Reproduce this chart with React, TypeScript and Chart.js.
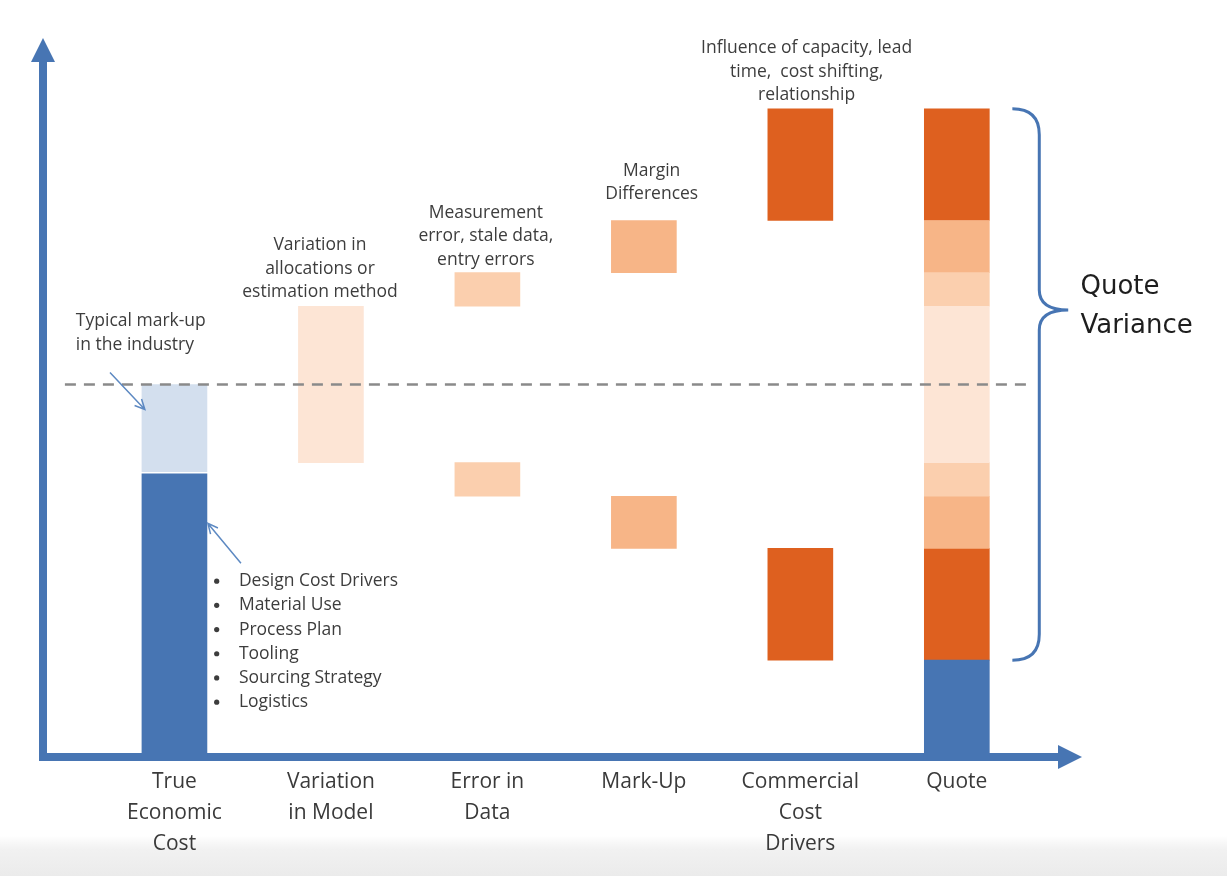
import React, { useEffect, useRef } from "react";
import { Chart, registerables } from "chart.js";

Chart.register(...registerables);

// ---------- data ----------
const categories: string[][] = [
  ["True", "Economic", "Cost"],
  ["Variation", "in Model"],
  ["Error in", "Data"],
  ["Mark-Up"],
  ["Commercial", "Cost", "Drivers"],
  ["Quote"],
];

// floating ranges [low, high] per category (null = no bar)
const baseCost = [[0, 76], null, null, null, null, [0, 26]];
const typicalMarkup = [[76.6, 100], null, null, null, null, null];
const modelVariation = [null, [79, 121], null, null, null, [79, 121]];
const dataErrorHigh = [null, null, [121, 130], null, null, [121, 130]];
const dataErrorLow = [null, null, [70, 79], null, null, [70, 79]];
const markupHigh = [null, null, null, [130, 144], null, [130, 144]];
const markupLow = [null, null, null, [56, 70], null, [56, 70]];
const commercialHigh = [null, null, null, null, [144, 174], [144, 174]];
const commercialLow = [null, null, null, null, [26, 56], [26, 56]];

const industryMarkupLevel = 100;
const quoteVarianceRange = [26, 174];
const braceTipValue = 120;

const costDrivers = [
  "Design Cost Drivers",
  "Material Use",
  "Process Plan",
  "Tooling",
  "Sourcing Strategy",
  "Logistics",
];

// ---------- styles ----------
const AXIS_BLUE = "#4775b3";
const LIGHT_BLUE = "#d3dfee";
const DARK_ORANGE = "#de601f";
const MED_ORANGE = "#f7b587";
const LIGHT_ORANGE = "#fbcfae";
const PALE_ORANGE = "#fde5d5";
const TEXT = "#3d3d3d";
const FONT = "'Open Sans', sans-serif";

const notes = [
  { lines: ["Typical mark-up", "in the industry"], x: -0.63, y: 116.9, align: "left" },
  { lines: ["Variation in", "allocations or", "estimation method"], x: 0.93, y: 137.3, align: "center" },
  { lines: ["Measurement", "error, stale data,", "entry errors"], x: 1.99, y: 146.1, align: "center" },
  { lines: ["Margin", "Differences"], x: 3.05, y: 157.4, align: "center" },
  { lines: ["Influence of capacity, lead", "time,  cost shifting,", "relationship"], x: 4.04, y: 190.3, align: "center" },
];

const toPoints = (arr: (number[] | null)[]) =>
  arr
    .map((v, i) => (v ? { x: i, y: v } : null))
    .filter((p) => p !== null) as { x: number; y: number[] }[];

function drawArrow(ctx: CanvasRenderingContext2D, x1: number, y1: number, x2: number, y2: number) {
  ctx.save();
  ctx.strokeStyle = "#5d89c2";
  ctx.lineWidth = 1.5;
  ctx.beginPath();
  ctx.moveTo(x1, y1);
  ctx.lineTo(x2, y2);
  const a = Math.atan2(y2 - y1, x2 - x1);
  const h = 11;
  ctx.moveTo(x2 - h * Math.cos(a - 0.45), y2 - h * Math.sin(a - 0.45));
  ctx.lineTo(x2, y2);
  ctx.lineTo(x2 - h * Math.cos(a + 0.45), y2 - h * Math.sin(a + 0.45));
  ctx.stroke();
  ctx.restore();
}

const decorPlugin = {
  id: "decor",
  beforeDraw(chart: any) {
    const { ctx, width, height } = chart;
    ctx.save();
    ctx.fillStyle = "#ffffff";
    ctx.fillRect(0, 0, width, height);
    const g = ctx.createLinearGradient(0, height - 40, 0, height);
    g.addColorStop(0, "rgba(238,238,238,0)");
    g.addColorStop(0.35, "#f1f1f1");
    g.addColorStop(1, "#ebebeb");
    ctx.fillStyle = g;
    ctx.fillRect(0, height - 40, width, 40);
    ctx.restore();
  },
  beforeDatasetsDraw(chart: any) {
    const { ctx, chartArea } = chart;
    const { left, right, top, bottom } = chartArea;
    ctx.save();
    ctx.fillStyle = AXIS_BLUE;
    // y axis
    ctx.fillRect(left - 4, top + 24, 8, bottom - top - 24 + 4);
    ctx.beginPath();
    ctx.moveTo(left - 12, top + 24);
    ctx.lineTo(left, top);
    ctx.lineTo(left + 12, top + 24);
    ctx.closePath();
    ctx.fill();
    // x axis
    ctx.fillRect(left - 4, bottom - 4, right - 24 - left + 4, 8);
    ctx.beginPath();
    ctx.moveTo(right - 24, bottom - 12);
    ctx.lineTo(right, bottom);
    ctx.lineTo(right - 24, bottom + 12);
    ctx.closePath();
    ctx.fill();
    ctx.restore();
  },
  afterDatasetsDraw(chart: any) {
    const { ctx } = chart;
    const xs = chart.scales.x;
    const ys = chart.scales.y;
    ctx.save();
    // dashed typical mark-up line
    const yLine = ys.getPixelForValue(industryMarkupLevel);
    ctx.strokeStyle = "#8a8a8a";
    ctx.lineWidth = 2.5;
    ctx.setLineDash([11, 8]);
    ctx.beginPath();
    ctx.moveTo(xs.getPixelForValue(-0.7), yLine);
    ctx.lineTo(xs.getPixelForValue(5.45), yLine);
    ctx.stroke();
    ctx.setLineDash([]);

    // annotation texts
    ctx.fillStyle = TEXT;
    ctx.font = `17.5px ${FONT}`;
    ctx.textBaseline = "middle";
    notes.forEach((n) => {
      ctx.textAlign = n.align as CanvasTextAlign;
      const x = xs.getPixelForValue(n.x);
      const y0 = ys.getPixelForValue(n.y);
      n.lines.forEach((l, k) => ctx.fillText(l, x, y0 + k * 23.5));
    });

    // bullet list
    ctx.textAlign = "left";
    const bx = xs.getPixelForValue(0.27);
    const tx = xs.getPixelForValue(0.412);
    const by0 = ys.getPixelForValue(47.2);
    costDrivers.forEach((l, k) => {
      const y = by0 + k * 24.2;
      ctx.beginPath();
      ctx.arc(bx, y, 2.6, 0, Math.PI * 2);
      ctx.fill();
      ctx.fillText(l, tx, y);
    });

    // arrows
    drawArrow(ctx, xs.getPixelForValue(-0.412), ys.getPixelForValue(103.2), xs.getPixelForValue(-0.189), ys.getPixelForValue(93.3));
    drawArrow(ctx, xs.getPixelForValue(0.425), ys.getPixelForValue(52.0), xs.getPixelForValue(0.214), ys.getPixelForValue(62.7));

    // brace
    const x0 = xs.getPixelForValue(5.355);
    const x1 = xs.getPixelForValue(5.527);
    const xt = xs.getPixelForValue(5.712);
    const yTop = ys.getPixelForValue(quoteVarianceRange[1]);
    const yBot = ys.getPixelForValue(quoteVarianceRange[0]);
    const yTip = ys.getPixelForValue(braceTipValue);
    const r = 26;
    const r2 = 20;
    ctx.strokeStyle = AXIS_BLUE;
    ctx.lineWidth = 3;
    ctx.beginPath();
    ctx.moveTo(x0, yTop);
    ctx.quadraticCurveTo(x1, yTop, x1, yTop + r);
    ctx.lineTo(x1, yTip - r2);
    ctx.quadraticCurveTo(x1, yTip, xt, yTip);
    ctx.quadraticCurveTo(x1, yTip, x1, yTip + r2);
    ctx.lineTo(x1, yBot - r);
    ctx.quadraticCurveTo(x1, yBot, x0, yBot);
    ctx.stroke();

    // Quote Variance label
    ctx.fillStyle = "#1e1e1e";
    ctx.font = "26px 'DejaVu Sans', sans-serif";
    ctx.textAlign = "left";
    const qx = xs.getPixelForValue(5.79);
    ctx.fillText("Quote", qx, ys.getPixelForValue(126.0));
    ctx.fillText("Variance", qx, ys.getPixelForValue(115.5));
    ctx.restore();
  },
};

export default function App() {
  const ref = useRef<HTMLCanvasElement | null>(null);

  useEffect(() => {
    if (!ref.current) return;
    const mk = (label: string, arr: (number[] | null)[], color: string) => ({
      label,
      data: toPoints(arr),
      backgroundColor: color,
      borderWidth: 0,
      barThickness: 65,
      grouped: false,
    });
    const chart = new Chart(ref.current, {
      type: "bar",
      data: {
        datasets: [
          mk("Base cost", baseCost, AXIS_BLUE),
          mk("Typical mark-up", typicalMarkup, LIGHT_BLUE),
          mk("Model variation", modelVariation, PALE_ORANGE),
          mk("Data error (high)", dataErrorHigh, LIGHT_ORANGE),
          mk("Data error (low)", dataErrorLow, LIGHT_ORANGE),
          mk("Mark-up (high)", markupHigh, MED_ORANGE),
          mk("Mark-up (low)", markupLow, MED_ORANGE),
          mk("Commercial (high)", commercialHigh, DARK_ORANGE),
          mk("Commercial (low)", commercialLow, DARK_ORANGE),
        ] as any,
      },
      options: {
        animation: false,
        responsive: false,
        devicePixelRatio: 1,
        layout: { padding: { left: 43, right: 145, top: 38, bottom: 0 } },
        plugins: { legend: { display: false }, tooltip: { enabled: false } },
        scales: {
          x: {
            type: "linear",
            offset: false,
            min: -0.84,
            max: 5.8,
            grid: { display: false, drawTicks: false, offset: false },
            border: { display: false },
            afterBuildTicks: (scale: any) => {
              scale.ticks = categories.map((_, i) => ({ value: i }));
            },
            afterFit: (scale: any) => {
              scale.height = 119;
            },
            ticks: {
              autoSkip: false,
              maxRotation: 0,
              padding: 10,
              color: "#3a3a3a",
              font: { family: FONT, size: 21, lineHeight: 1.476 },
              callback: (v: any) => categories[Math.round(Number(v))] ?? "",
            },
          },
          y: { display: false, min: 0, max: 193 },
        },
      } as any,
      plugins: [decorPlugin],
    });
    return () => chart.destroy();
  }, []);

  return (
    <div style={{ position: "fixed", left: 0, top: 0, width: 1227, height: 876, background: "#fff" }}>
      <canvas ref={ref} width={1227} height={876} style={{ width: 1227, height: 876, display: "block" }} />
    </div>
  );
}
